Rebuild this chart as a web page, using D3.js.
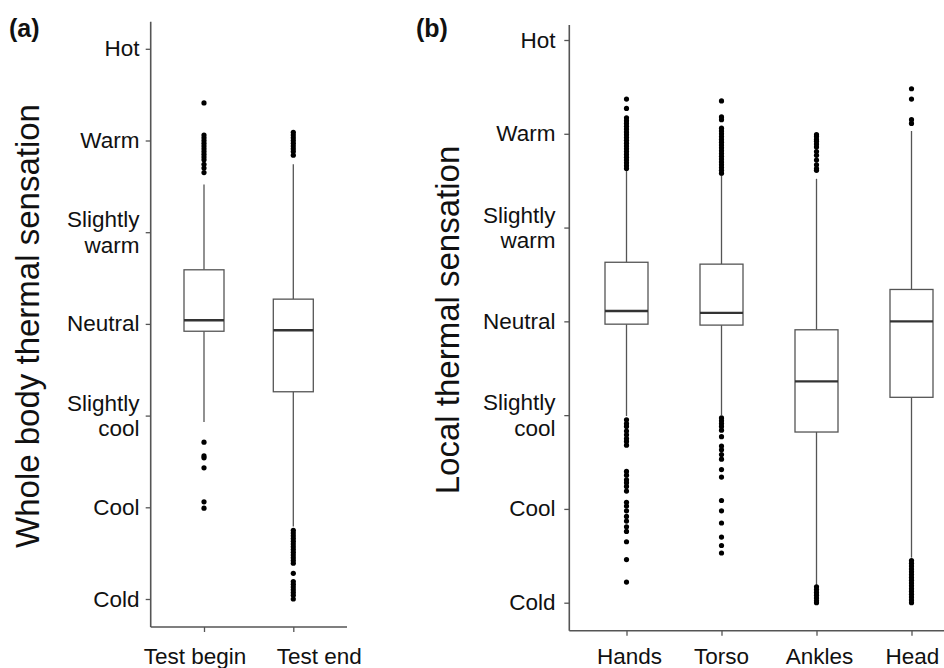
<!DOCTYPE html>
<html>
<head>
<meta charset="utf-8">
<script src="https://cdn.jsdelivr.net/npm/d3@7/dist/d3.min.js"></script>
<style>
  html, body { margin: 0; padding: 0; background: #fff; }
  text { font-family: "Liberation Sans", Arial, sans-serif; fill: #111; }
</style>
</head>
<body>
<svg id="chart" width="944" height="668"></svg>
<script>
// ---------- DATA ----------
const levelValues = [-3, -2, -1, 0, 1, 2, 3];
const levelLabels = ["Cold", "Cool", "Slightly\ncool", "Neutral", "Slightly\nwarm", "Warm", "Hot"];

const categoriesA = ["Test begin", "Test end"];
const q1A = [-0.08, -0.74];
const medianA = [0.04, -0.07];
const q3A = [0.59, 0.27];
const whiskerLowA = [-1.07, -2.21];
const whiskerHighA = [1.52, 1.74];
const outliersA = [
  [2.41, 2.06, 2.03, 2.00, 1.97, 1.94, 1.91, 1.88, 1.85, 1.82, 1.79, 1.74, 1.70, 1.65,
   -1.29, -1.44, -1.46, -1.57, -1.94, -2.01],
  [2.09, 2.06, 2.03, 2.00, 1.97, 1.94, 1.91, 1.88, 1.84,
   -2.25, -2.28, -2.31, -2.34, -2.37, -2.40, -2.43, -2.46, -2.49, -2.52, -2.55, -2.58, -2.61,
   -2.72, -2.81, -2.84, -2.87, -2.90, -2.93, -2.96, -3.00]
];

const categoriesB = ["Hands", "Torso", "Ankles", "Head"];
const q1B = [-0.03, -0.04, -1.18, -0.81];
const medianB = [0.11, 0.09, -0.64, 0.00];
const q3B = [0.63, 0.61, -0.09, 0.34];
const whiskerLowB = [-1.01, -1.00, -2.81, -2.52];
const whiskerHighB = [1.61, 1.56, 1.52, 2.03];
const outliersB = [
  [2.37, 2.27, 2.17, 2.14, 2.11, 2.08, 2.05, 2.02, 1.99, 1.96, 1.93, 1.90, 1.87, 1.84, 1.81, 1.78, 1.75, 1.72, 1.69, 1.66, 1.63,
   -1.05, -1.09, -1.12, -1.17, -1.21, -1.25, -1.28, -1.32,
   -1.60, -1.64, -1.69, -1.72, -1.76, -1.81,
   -1.93, -1.97, -2.02, -2.08, -2.13, -2.19, -2.24, -2.35, -2.54, -2.78],
  [2.35, 2.18, 2.15, 2.06, 2.03, 2.00, 1.97, 1.94, 1.91, 1.88, 1.85, 1.82, 1.79, 1.76, 1.73, 1.70, 1.67, 1.64, 1.61, 1.58,
   -1.03, -1.06, -1.09, -1.12, -1.16, -1.23, -1.33, -1.37, -1.42, -1.47, -1.58, -1.66,
   -1.91, -2.02, -2.15, -2.30, -2.39, -2.47],
  [1.99, 1.97, 1.94, 1.92, 1.89, 1.86, 1.81, 1.77, 1.72, 1.67, 1.63, 1.61,
   -2.83, -2.86, -2.89, -2.92, -2.95, -2.98, -3.00],
  [2.48, 2.37, 2.15, 2.11,
   -2.55, -2.58, -2.61, -2.64, -2.67, -2.70, -2.73, -2.76, -2.79, -2.82, -2.85, -2.88, -2.91, -2.94, -2.97, -3.00]
];

// ---------- DRAW ----------
const svg = d3.select("#chart");
svg.append("rect").attr("width", 944).attr("height", 668).attr("fill", "#fff");

const axisColor = "#555";
const boxColor = "#555";

function panel(cfg) {
  const g = svg.append("g");
  const x = d3.scalePoint().domain(cfg.categories).range(cfg.xRange);
  const y = d3.scaleLinear().domain([-3, 3]).range(cfg.yRange);

  // axis lines
  g.append("line").attr("x1", cfg.axisX).attr("x2", cfg.axisX)
    .attr("y1", cfg.axisTop).attr("y2", cfg.axisBottom)
    .attr("stroke", axisColor).attr("stroke-width", 1.6);
  g.append("line").attr("x1", cfg.axisX).attr("x2", cfg.axisRight)
    .attr("y1", cfg.axisBottom).attr("y2", cfg.axisBottom)
    .attr("stroke", axisColor).attr("stroke-width", 1.6);

  // y ticks
  const yAx = g.append("g").attr("transform", `translate(${cfg.axisX},0)`)
    .call(d3.axisLeft(y).tickValues(levelValues).tickSize(5).tickFormat(""));
  yAx.select(".domain").remove();
  yAx.selectAll(".tick line").attr("stroke", axisColor).attr("stroke-width", 1.3);

  // y tick labels
  levelValues.forEach((v, i) => {
    const lines = levelLabels[i].split("\n");
    const t = g.append("text").attr("text-anchor", "end").style("font-size", "22.5px");
    if (lines.length === 1) {
      t.append("tspan").attr("x", cfg.labelRight).attr("y", y(v) + 7.5).text(lines[0]);
    } else {
      t.append("tspan").attr("x", cfg.labelRight).attr("y", y(v) - 5).text(lines[0]);
      t.append("tspan").attr("x", cfg.labelRight).attr("y", y(v) + 20.5).text(lines[1]);
    }
  });

  // x ticks
  const xAx = g.append("g").attr("transform", `translate(0,${cfg.axisBottom})`)
    .call(d3.axisBottom(x).tickSize(5).tickFormat(""));
  xAx.select(".domain").remove();
  xAx.selectAll(".tick line").attr("stroke", axisColor).attr("stroke-width", 1.3);

  cfg.categories.forEach((c, i) => {
    g.append("text").attr("x", x(c) + cfg.xLabelShift[i]).attr("y", 664)
      .attr("text-anchor", "middle").style("font-size", "22.5px").text(c);
  });

  // y title
  g.append("text")
    .attr("transform", `translate(${cfg.titleX},${cfg.titleY}) rotate(-90)`)
    .attr("text-anchor", "middle").style("font-size", "33px").text(cfg.title);

  // panel letter
  g.append("text").attr("x", cfg.letterX).attr("y", 37)
    .style("font-size", "25px").style("font-weight", "bold").text(cfg.letter);

  // boxes
  const bw = cfg.boxWidth;
  cfg.categories.forEach((c, i) => {
    const cx = x(c);
    g.append("line").attr("x1", cx).attr("x2", cx)
      .attr("y1", y(cfg.whiskerHigh[i])).attr("y2", y(cfg.q3[i]))
      .attr("stroke", boxColor).attr("stroke-width", 1.3);
    g.append("line").attr("x1", cx).attr("x2", cx)
      .attr("y1", y(cfg.q1[i])).attr("y2", y(cfg.whiskerLow[i]))
      .attr("stroke", boxColor).attr("stroke-width", 1.3);
    g.append("rect").attr("x", cx - bw / 2).attr("width", bw)
      .attr("y", y(cfg.q3[i])).attr("height", y(cfg.q1[i]) - y(cfg.q3[i]))
      .attr("fill", "#fff").attr("stroke", boxColor).attr("stroke-width", 1.3);
    g.append("line").attr("x1", cx - bw / 2).attr("x2", cx + bw / 2)
      .attr("y1", y(cfg.median[i])).attr("y2", y(cfg.median[i]))
      .attr("stroke", "#333").attr("stroke-width", 2.4);
    g.selectAll(null).data(cfg.outliers[i]).enter().append("circle")
      .attr("cx", cx).attr("cy", d => y(d)).attr("r", 2.6).attr("fill", "#000");
  });
}

panel({
  categories: categoriesA, q1: q1A, median: medianA, q3: q3A,
  whiskerLow: whiskerLowA, whiskerHigh: whiskerHighA, outliers: outliersA,
  xRange: [204, 293.3], yRange: [599, 48.8],
  axisX: 150.7, axisTop: 21.7, axisBottom: 627, axisRight: 347,
  labelRight: 139.5, xLabelShift: [-9, 26],
  boxWidth: 40, title: "Whole body thermal sensation", titleX: 39, titleY: 326,
  letter: "(a)", letterX: 9
});

panel({
  categories: categoriesB, q1: q1B, median: medianB, q3: q3B,
  whiskerLow: whiskerLowB, whiskerHigh: whiskerHighB, outliers: outliersB,
  xRange: [626.5, 911.5], yRange: [602.7, 40],
  axisX: 569.3, axisTop: 25, axisBottom: 630.7, axisRight: 944,
  labelRight: 555.5, xLabelShift: [3, 0, 3, 1],
  boxWidth: 43, title: "Local thermal sensation", titleX: 459, titleY: 320,
  letter: "(b)", letterX: 416
});
</script>
</body>
</html>
